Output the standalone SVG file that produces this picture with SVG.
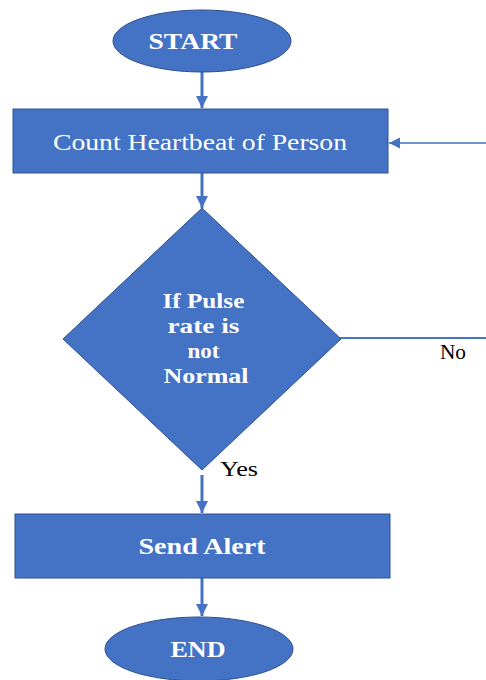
<svg xmlns="http://www.w3.org/2000/svg" width="486" height="680" viewBox="0 0 486 680">
<defs>
<style>
.shape{fill:#4472C4;stroke:#2F528F;stroke-width:1}
text{font-family:'Liberation Serif','Times New Roman',serif}
.lbl{fill:#ffffff;text-anchor:middle}
.b{font-weight:bold}
.edge{stroke:#4472C4;fill:none}
.elbl{fill:#000000;font-size:20px}
</style>
<marker id="ah" viewBox="0 0 10 10" refX="10" refY="5" markerWidth="4" markerHeight="4" markerUnits="strokeWidth" orient="auto">
<path d="M0,0 L10,5 L0,10 z" fill="#4472C4"/>
</marker>
<marker id="ah2" viewBox="0 0 10 10" refX="10" refY="5" markerWidth="7" markerHeight="7" markerUnits="strokeWidth" orient="auto">
<path d="M0,0 L10,5 L0,10 z" fill="#4472C4"/>
</marker>
</defs>
<rect width="486" height="680" fill="#ffffff"/>
<g id="connectors">
<line class="edge" x1="202" y1="72" x2="202" y2="108" stroke-width="3" marker-end="url(#ah)"/>
<line class="edge" x1="202" y1="173" x2="202" y2="208" stroke-width="3" marker-end="url(#ah)"/>
<line class="edge" x1="202" y1="475" x2="202" y2="513" stroke-width="3" marker-end="url(#ah)"/>
<line class="edge" x1="202" y1="578" x2="202" y2="616" stroke-width="3" marker-end="url(#ah)"/>
<line class="edge" x1="340" y1="338" x2="486" y2="338" stroke-width="2"/>
<line class="edge" x1="486" y1="143" x2="389" y2="143" stroke-width="1.6" marker-end="url(#ah2)"/>
<text class="elbl" x="440" y="359" textLength="26" lengthAdjust="spacingAndGlyphs" font-family="Liberation Serif, serif">No</text>
<text class="elbl" x="220" y="476" textLength="38" lengthAdjust="spacingAndGlyphs" font-family="Liberation Serif, serif">Yes</text>
</g>
<g id="start">
<ellipse class="shape" cx="202" cy="41" rx="89" ry="31"/>
<text class="lbl b" x="193" y="49" font-size="23" textLength="89" lengthAdjust="spacingAndGlyphs" font-family="Liberation Serif, serif">START</text>
</g>
<g id="count">
<rect class="shape" x="13" y="109" width="375" height="64"/>
<text class="lbl" x="200" y="150" font-size="23" textLength="294" lengthAdjust="spacingAndGlyphs" font-family="Liberation Serif, serif">Count Heartbeat of Person</text>
</g>
<g id="decision">
<polygon class="shape" points="202,208 341,339 202,470 63,339"/>
<text class="lbl b" font-size="21" font-family="Liberation Serif, serif">
<tspan x="206" y="308" textLength="82" lengthAdjust="spacingAndGlyphs">If Pulse</tspan>
<tspan x="206" y="333" textLength="72" lengthAdjust="spacingAndGlyphs">rate is</tspan>
<tspan x="206" y="358" textLength="32" lengthAdjust="spacingAndGlyphs">not</tspan>
<tspan x="206" y="383" textLength="85" lengthAdjust="spacingAndGlyphs">Normal</tspan>
</text>
</g>
<g id="alert">
<rect class="shape" x="15" y="514" width="375" height="64"/>
<text class="lbl b" x="202" y="554" font-size="23" textLength="127" lengthAdjust="spacingAndGlyphs" font-family="Liberation Serif, serif">Send Alert</text>
</g>
<g id="end">
<ellipse class="shape" cx="199" cy="649" rx="94" ry="32"/>
<text class="lbl b" x="198" y="657" font-size="23" textLength="55" lengthAdjust="spacingAndGlyphs" font-family="Liberation Serif, serif">END</text>
</g>
</svg>
